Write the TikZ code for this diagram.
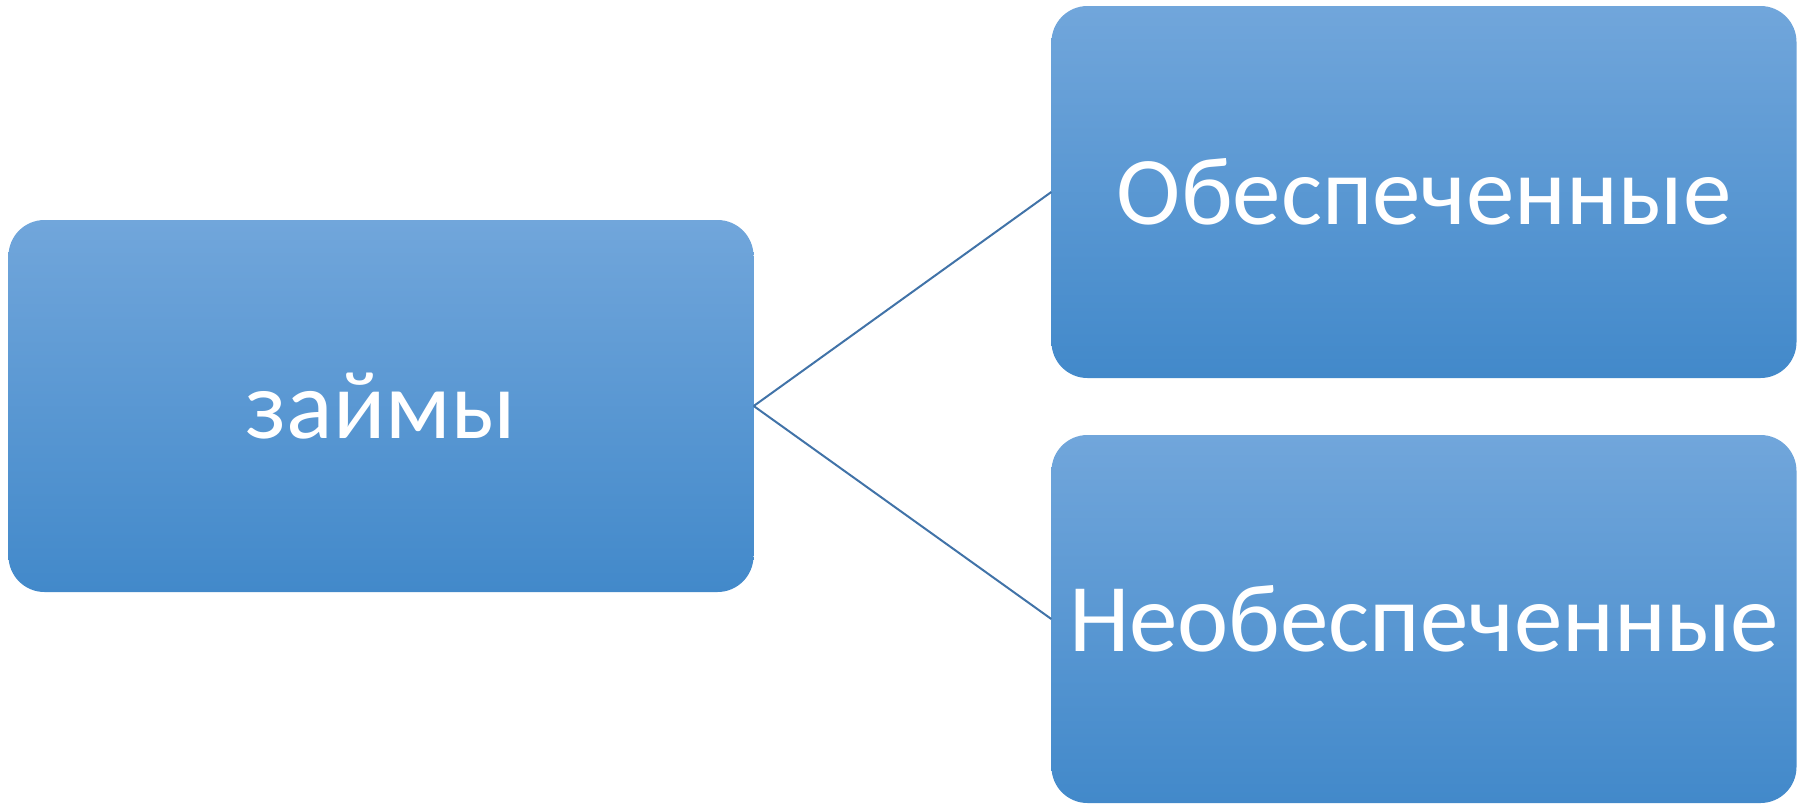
\documentclass[tikz,border=0pt]{standalone}
\usepackage{fontspec}
\setmainfont{Carlito}
\usetikzlibrary{positioning}
\definecolor{boxtop}{RGB}{113,166,219}
\definecolor{boxbottom}{RGB}{66,137,202}
\definecolor{linkblue}{RGB}{65,115,168}
\tikzstyle{link} = [line width=2pt, draw=linkblue]
\tikzstyle{loanbox} = [rectangle, rounded corners=36pt, minimum width=745pt, minimum height=372pt, text centered, draw=none, top color=boxtop, bottom color=boxbottom, text=white, font=\fontsize{97}{110}\selectfont]

\begin{document}
\begin{tikzpicture}[node distance=1043pt]

\useasboundingbox (0pt,0pt) rectangle (1805pt,-804pt);

\node (loans) [loanbox] at (381pt,-406pt) {займы};

\node (secured) [loanbox, right of=loans, yshift=214pt] {Обеспеченные};
\node (unsecured) [loanbox, right of=loans, yshift=-213pt, minimum height=368pt] {Необеспеченные};

\draw [link] (loans.east) -- (secured.west);
\draw [link] (loans.east) -- (unsecured.west);

\end{tikzpicture}
\end{document}
